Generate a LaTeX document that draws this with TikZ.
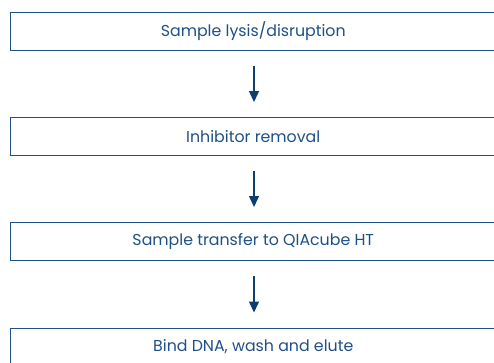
\documentclass[tikz,border=0pt]{standalone}
\usepackage{fontspec}
\setmainfont{Poppins}
\usetikzlibrary{arrows.meta}
\definecolor{qiablue}{RGB}{30,80,135}
\definecolor{qiadark}{RGB}{12,62,112}
\tikzset{
  stepbox/.style={draw=qiablue, line width=1pt, minimum width=485.5pt, minimum height=37.5pt,
    inner sep=0pt, text=qiablue, font=\fontsize{15.8}{17}\selectfont},
  flow/.style={draw=qiadark, line width=1.4pt, -{Triangle[width=10pt,length=11pt]},
    shorten <=15pt, shorten >=15pt}
}
\begin{document}
\begin{tikzpicture}[x=1pt,y=-1pt]
    \useasboundingbox (0,0) rectangle (494,362);
    \clip (0,0) rectangle (494,362);
      \node[stepbox] (lysis) at (253.25, 31.25) {Sample lysis/disruption};
      \node[stepbox] (inhib) at (253.25, 136.25) {Inhibitor removal};
      \node[stepbox] (trans) at (253.25, 241.25) {Sample transfer to QIAcube HT};
      \node[stepbox] (bind) at (253.25, 346.75) {Bind DNA, wash and elute};
      \draw[flow] (lysis.south -| 254,0) -- (inhib.north -| 254,0);
      \draw[flow] (inhib.south -| 254,0) -- (trans.north -| 254,0);
      \draw[flow] (trans.south -| 254,0) -- (bind.north -| 254,0);
\end{tikzpicture}
\end{document}
